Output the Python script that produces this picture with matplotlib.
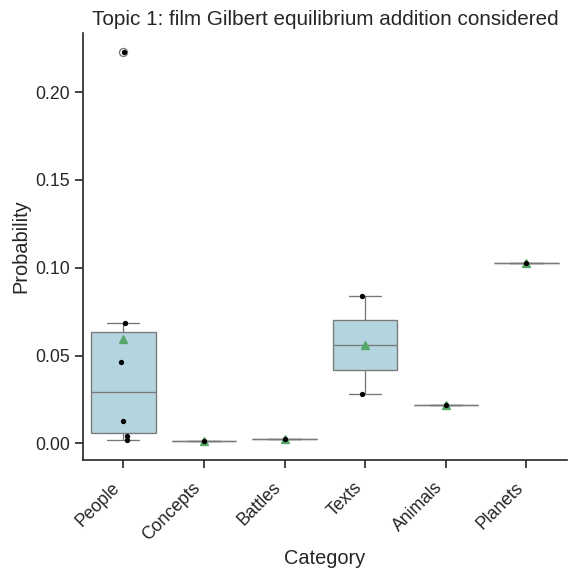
import numpy as np
import pandas as pd
import matplotlib
matplotlib.use("Agg")
import matplotlib.pyplot as plt
import seaborn as sns

# values
categories = ["People", "Concepts", "Battles", "Texts", "Animals", "Planets"]
people = [0.2227, 0.0688, 0.0466, 0.0125, 0.0040, 0.0022]
concepts = [0.0015]
battles = [0.0027]
texts = [0.0840, 0.0280]
animals = [0.0216]
planets = [0.1027]

values = [people, concepts, battles, texts, animals, planets]
df = pd.DataFrame({
    "Category": [c for c, v in zip(categories, values) for _ in v],
    "Probability": [p for v in values for p in v],
})

sns.set_theme(style="ticks", font_scale=1.2)
plt.rcParams['font.family'] = ['Liberation Sans', 'DejaVu Sans']

np.random.seed(3)
fig, ax = plt.subplots(figsize=(6, 6), dpi=96)
sns.boxplot(data=df, x="Category", y="Probability", order=categories,
            color="lightblue", showmeans=True, ax=ax)
sns.stripplot(data=df, x="Category", y="Probability", order=categories,
              color="black", size=4, jitter=0.06, ax=ax)

ax.set_title("Topic 1: film Gilbert equilibrium addition considered", fontsize=15.5)
ax.set_xlabel("Category", fontsize=15)
ax.set_ylabel("Probability", fontsize=15)
ax.tick_params(axis="x", pad=8)
plt.setp(ax.get_xticklabels(), rotation=45, ha="right")
sns.despine()
fig.subplots_adjust(left=0.144, right=0.984, bottom=0.201, top=0.943)
plt.savefig("out.png")
